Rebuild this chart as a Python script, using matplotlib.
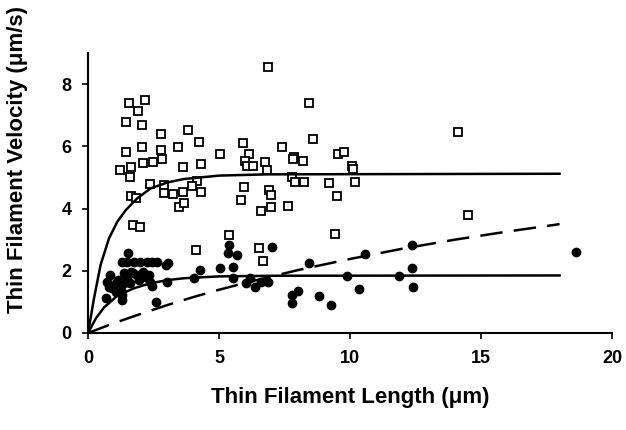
import numpy as np
import matplotlib
matplotlib.use("Agg")
import matplotlib.pyplot as plt

plt.rcParams['font.family'] = ['Liberation Sans', 'DejaVu Sans']
plt.rcParams['font.weight'] = 'bold'

# open squares (upper group)
sq_x = [6.86, 1.55, 2.16, 1.90, 1.46, 2.05, 2.77, 3.83, 4.22, 5.90, 7.39, 1.44, 2.05, 2.80,
        3.44, 1.23, 1.64, 2.10, 2.48, 2.84, 1.59, 3.63, 4.33, 5.04, 6.15, 5.98, 6.06, 6.31,
        6.77, 6.83, 2.38, 4.15, 3.98, 4.30, 3.23, 2.90, 3.64, 1.64, 1.85, 5.97, 6.92, 6.97,
        5.84, 3.48, 3.66, 2.90, 1.71, 1.99, 6.60, 6.98, 7.65, 5.39, 4.11, 6.54, 6.69, 14.49,
        9.43, 8.45, 8.58, 14.12, 7.88, 8.19, 7.81, 9.55, 9.78, 10.06, 10.13, 7.80, 7.89, 8.26,
        9.21, 10.20, 9.52]
sq_y = [8.54, 7.39, 7.50, 7.14, 6.79, 6.68, 6.39, 6.53, 6.13, 6.10, 5.98, 5.81, 5.99, 5.89,
        5.98, 5.24, 5.33, 5.47, 5.49, 5.58, 5.02, 5.33, 5.43, 5.75, 5.77, 5.53, 5.38, 5.38,
        5.51, 5.24, 4.79, 4.90, 4.73, 4.52, 4.46, 4.49, 4.54, 4.41, 4.35, 4.69, 4.60, 4.45,
        4.28, 4.06, 4.19, 4.77, 3.46, 3.42, 3.92, 4.04, 4.08, 3.16, 2.68, 2.72, 2.32, 3.80,
        3.17, 7.39, 6.24, 6.45, 5.65, 5.53, 5.58, 5.76, 5.81, 5.37, 5.26, 5.01, 4.86, 4.86,
        4.83, 4.85, 4.41]

# filled circles (lower group)
ci_x = [1.52, 1.30, 1.50, 1.75, 2.00, 2.25, 2.45, 2.63, 2.97, 3.07, 0.84, 0.74, 0.80, 0.92,
        1.06, 1.16, 1.36, 1.48, 1.63, 1.60, 1.73, 1.88, 1.95, 2.10, 2.20, 2.33, 2.37, 2.45,
        1.37, 1.06, 1.25, 0.68, 1.31, 1.29, 2.60, 3.03,
        4.05, 4.27, 5.04, 5.39, 5.33, 5.67, 5.55, 5.55, 6.02, 6.18, 6.37, 6.60, 6.88, 7.02,
        7.77, 8.03, 7.77, 8.82, 9.26, 8.44, 10.57, 9.87, 10.36, 11.88, 12.38, 12.38, 12.42,
        18.61]
ci_y = [2.56, 2.27, 2.29, 2.29, 2.29, 2.29, 2.29, 2.29, 2.19, 2.24, 1.85, 1.65, 1.49, 1.44,
        1.62, 1.70, 1.92, 1.81, 1.97, 1.60, 1.92, 1.86, 1.70, 1.97, 1.81, 1.86, 1.65, 1.52,
        1.60, 1.33, 1.38, 1.12, 1.06, 1.22, 1.01, 1.65,
        1.76, 2.03, 2.08, 2.83, 2.56, 2.51, 2.13, 1.76, 1.60, 1.76, 1.49, 1.65, 1.65, 2.75,
        1.22, 1.36, 0.95, 1.19, 0.90, 2.24, 2.53, 1.83, 1.41, 1.83, 2.83, 2.10, 1.47,
        2.61]

# fitted curves
up_x = [0, 0.23, 0.48, 0.80, 1.12, 1.44, 1.88, 2.39, 3.03, 3.66, 5.0, 6.8, 18.0]
up_y = [0, 1.12, 2.19, 3.04, 3.58, 3.95, 4.33, 4.65, 4.84, 4.95, 5.06, 5.10, 5.12]
lo_x = [0, 0.30, 0.61, 1.12, 1.76, 2.39, 3.03, 3.66, 5.0, 7.0, 18.0]
lo_y = [0, 0.47, 0.82, 1.20, 1.44, 1.60, 1.70, 1.76, 1.82, 1.84, 1.85]
da_x = [0, 1, 2, 3, 4, 5, 6, 8, 10, 12, 14, 16, 18]
da_y = [0, 0.32, 0.61, 0.89, 1.15, 1.39, 1.61, 2.02, 2.38, 2.71, 3.00, 3.26, 3.50]

fig = plt.figure(figsize=(6.26, 4.30), dpi=100)
ax = fig.add_axes([0.1406, 0.2256, 0.837, 0.651])

ax.plot(sq_x, sq_y, 's', ms=6, mfc='white', mec='black', mew=1.3, ls='none')
ax.plot(ci_x, ci_y, 'o', ms=6, mfc='black', mec='black', ls='none')
ax.plot(up_x, up_y, color='black', lw=1.8)
ax.plot(lo_x, lo_y, color='black', lw=1.8)
ax.plot(da_x, da_y, color='black', lw=1.8, dashes=(9, 4.5))

ax.set_xlim(0, 20)
ax.set_ylim(0, 9)
ax.set_xticks([0, 5, 10, 15, 20])
ax.set_yticks([0, 2, 4, 6, 8])
ax.spines['top'].set_visible(False)
ax.spines['right'].set_visible(False)
for s in ['left', 'bottom']:
    ax.spines[s].set_linewidth(1.5)
ax.tick_params(direction='out', length=4, width=1.2, labelsize=13, pad=8)
for lab in ax.get_xticklabels() + ax.get_yticklabels():
    lab.set_fontweight('bold')

ax.set_xlabel('Thin Filament Length (μm)', fontsize=16, fontweight='bold')
ax.set_ylabel('Thin Filament Velocity (μm/s)', fontsize=16, fontweight='bold')
ax.xaxis.set_label_coords(0.5, -0.232)
ax.yaxis.set_label_coords(-0.134, 0.618)
ax.xaxis.label.set_va('center')
ax.yaxis.label.set_va('center')

fig.savefig('out.png', dpi=100)
